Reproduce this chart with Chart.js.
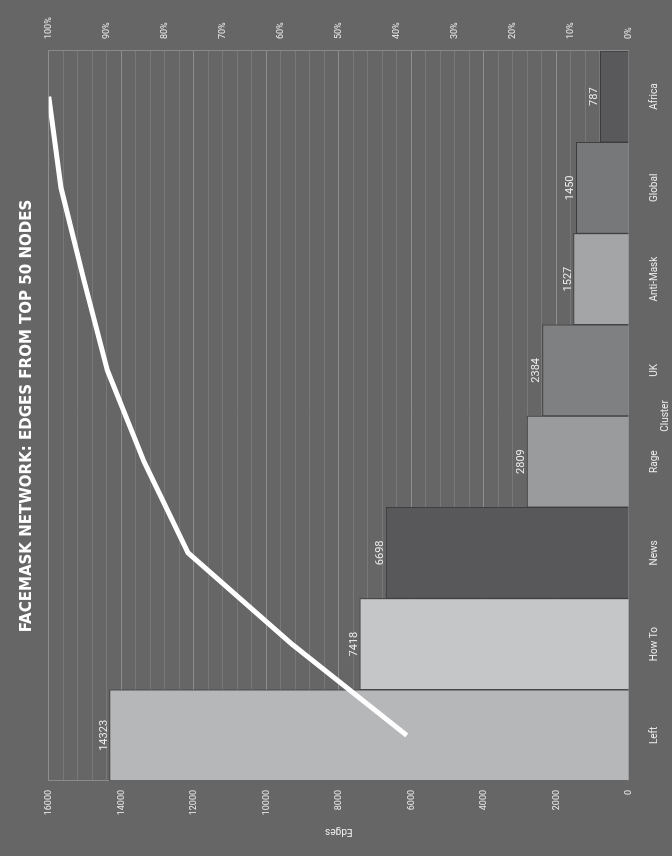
<!DOCTYPE html>
<html>
<head>
<meta charset="utf-8">
<script src="https://cdn.jsdelivr.net/npm/chart.js@4.4.1/dist/chart.umd.min.js"></script>
<style>
  html, body { margin: 0; padding: 0; width: 672px; height: 856px; overflow: hidden; background: #666666; }
  /* the chart is laid out landscape and turned a quarter turn to stand on its side */
  #wrap { position: absolute; left: 0; top: 0; width: 856px; height: 672px;
          transform-origin: 0 0; transform: translateY(856px) rotate(-90deg); }
  canvas { display: block; }
</style>
</head>
<body>
<div id="wrap"><canvas id="c" width="856" height="672"></canvas></div>
<script>
// Clusters, edge counts and the running share of all edges
const categories = ['Left', 'How To', 'News', 'Rage', 'UK', 'Anti-Mask', 'Global', 'Africa'];
const edges = [14323, 7418, 6698, 2809, 2384, 1527, 1450, 787];
const cumulativePct = [38.3, 58.1, 76.0, 83.6, 89.9, 94.0, 97.9, 100];
const barColors = ['#b6b7b9', '#c5c6c8', '#58585a', '#9a9b9d', '#7f8082', '#a4a5a7', '#77787a', '#59595b'];

const titleText = 'FACEMASK NETWORK: EDGES FROM TOP 50 NODES';
const titleFamily = '"Liberation Sans Narrow", "DejaVu Sans Condensed", Roboto, sans-serif';
const textColor = '#ececec';
const tickFamily = 'Roboto, "Liberation Sans", sans-serif';

// size the heading so it spans the plot like a banner
const mctx = document.createElement('canvas').getContext('2d');
mctx.font = 'bold 20px ' + titleFamily;
const titleSize = Math.round(20 * 433 / mctx.measureText(titleText).width * 10) / 10;

// value written just beyond the end of each bar
const barValueLabels = {
  id: 'barValueLabels',
  afterDatasetsDraw(chart) {
    const meta = chart.getDatasetMeta(1);
    const ctx = chart.ctx;
    ctx.save();
    ctx.fillStyle = textColor;
    ctx.font = '11px ' + tickFamily;
    ctx.textAlign = 'center';
    ctx.textBaseline = 'alphabetic';
    meta.data.forEach((bar, i) => {
      ctx.fillText(String(edges[i]), bar.x, bar.y - 3);
    });
    ctx.restore();
  }
};

Chart.defaults.font.family = tickFamily;
Chart.defaults.color = textColor;

new Chart(document.getElementById('c'), {
  type: 'bar',
  data: {
    labels: categories,
    datasets: [
      {
        type: 'line',
        data: cumulativePct,
        yAxisID: 'yPct',
        borderColor: '#ffffff',
        borderWidth: 5,
        borderCapStyle: 'butt',
        pointRadius: 0,
        tension: 0,
        fill: false,
        order: 0
      },
      {
        type: 'bar',
        data: edges,
        yAxisID: 'y',
        backgroundColor: barColors,
        borderColor: '#3c3c3e',
        borderWidth: 1,
        barPercentage: 1,
        categoryPercentage: 1,
        order: 1
      }
    ]
  },
  options: {
    responsive: false,
    animation: false,
    devicePixelRatio: 1,
    layout: { padding: 0 },
    plugins: {
      legend: { display: false },
      tooltip: { enabled: false },
      title: {
        display: true,
        fullSize: false,
        text: titleText,
        color: '#ffffff',
        font: { family: titleFamily, size: titleSize, weight: 'bold' },
        padding: { top: 26.5 - titleSize * 0.6, bottom: 48.8 - 26.5 - titleSize * 0.6 }
      }
    },
    scales: {
      x: {
        offset: true,
        grid: { display: false, drawTicks: false },
        border: { display: false },
        ticks: { color: textColor, font: { size: 10 }, padding: 20, maxRotation: 0 },
        title: { display: true, text: 'Cluster', color: textColor, font: { size: 10 }, padding: { top: 0, bottom: 1 } },
        afterFit(s) { s.height = 672 - 628.9; }
      },
      y: {
        position: 'left',
        min: 0,
        max: 16000,
        grid: {
          drawTicks: false,
          color: (c) => (c.tick && c.tick.value % 2000 === 0) ? '#8e8e8e' : '#787878',
          lineWidth: 1
        },
        border: { display: true, color: '#8a8a8a' },
        ticks: {
          stepSize: 400,
          autoSkip: false,
          color: textColor,
          font: { size: 9 },
          padding: 9,
          callback: (v) => (v % 2000 === 0 ? String(v) : '')
        },
        title: { display: true, text: 'Edges', color: textColor, font: { size: 10 }, padding: { top: 18, bottom: 0 } },
        afterFit(s) { s.width = 75; }
      },
      yPct: {
        position: 'right',
        min: 0,
        max: 100,
        grid: { display: false, drawTicks: false },
        border: { display: true, color: '#8a8a8a' },
        ticks: {
          stepSize: 10,
          color: textColor,
          font: { size: 9 },
          padding: 12,
          callback: (v) => v + '%'
        },
        afterFit(s) { s.width = 856 - 805; }
      }
    }
  },
  plugins: [barValueLabels]
});
</script>
</body>
</html>
